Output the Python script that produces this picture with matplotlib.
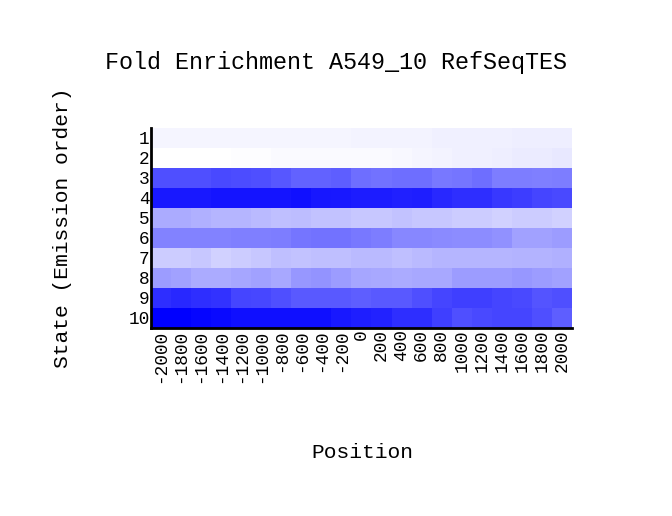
import numpy as np
import matplotlib
matplotlib.use("Agg")
import matplotlib.pyplot as plt
from matplotlib.colors import LinearSegmentedColormap

plt.rcParams['font.family'] = ['Liberation Mono', 'DejaVu Sans Mono']

# Datos
positions = list(range(-2000, 2001, 200))
states = [str(i) for i in range(1, 11)]

state1 = [0.04, 0.04, 0.04, 0.04, 0.04, 0.04, 0.04, 0.04, 0.04, 0.04, 0.05,
          0.05, 0.05, 0.05, 0.06, 0.06, 0.06, 0.06, 0.07, 0.07, 0.07]
state2 = [0.00, 0.00, 0.00, 0.00, 0.01, 0.01, 0.02, 0.02, 0.02, 0.02, 0.02,
          0.02, 0.03, 0.04, 0.05, 0.06, 0.06, 0.07, 0.08, 0.08, 0.09]
state3 = [0.69, 0.69, 0.69, 0.71, 0.70, 0.69, 0.66, 0.61, 0.61, 0.63, 0.57,
          0.55, 0.57, 0.57, 0.53, 0.54, 0.57, 0.51, 0.51, 0.50, 0.51]
state4 = [0.90, 0.90, 0.90, 0.92, 0.92, 0.92, 0.92, 0.93, 0.91, 0.90, 0.89,
          0.89, 0.87, 0.88, 0.84, 0.82, 0.82, 0.78, 0.76, 0.73, 0.71]
state5 = [0.33, 0.33, 0.31, 0.29, 0.29, 0.27, 0.25, 0.26, 0.24, 0.24, 0.22,
          0.22, 0.24, 0.22, 0.22, 0.20, 0.20, 0.18, 0.20, 0.20, 0.18]
state6 = [0.49, 0.49, 0.49, 0.49, 0.50, 0.50, 0.51, 0.54, 0.55, 0.55, 0.53,
          0.51, 0.47, 0.47, 0.46, 0.45, 0.45, 0.43, 0.37, 0.37, 0.39]
state7 = [0.20, 0.20, 0.22, 0.18, 0.20, 0.22, 0.25, 0.24, 0.25, 0.25, 0.27,
          0.27, 0.25, 0.27, 0.29, 0.29, 0.29, 0.29, 0.30, 0.30, 0.31]
state8 = [0.39, 0.37, 0.33, 0.33, 0.35, 0.37, 0.34, 0.41, 0.42, 0.39, 0.35,
          0.34, 0.33, 0.34, 0.34, 0.39, 0.39, 0.39, 0.41, 0.39, 0.37]
state9 = [0.82, 0.84, 0.82, 0.80, 0.73, 0.72, 0.69, 0.65, 0.65, 0.65, 0.63,
          0.65, 0.65, 0.69, 0.73, 0.75, 0.75, 0.73, 0.71, 0.67, 0.69]
state10 = [1.00, 1.00, 0.98, 0.96, 0.94, 0.94, 0.94, 0.94, 0.94, 0.90, 0.88,
           0.86, 0.82, 0.82, 0.75, 0.69, 0.71, 0.73, 0.73, 0.69, 0.63]

matrix = np.array([state1, state2, state3, state4, state5,
                   state6, state7, state8, state9, state10])

cmap = LinearSegmentedColormap.from_list("wb", ["#ffffff", "#0000ff"])

fig = plt.figure(figsize=(6.72, 5.16), dpi=100)
ax = fig.add_axes([151 / 672, 1 - 328 / 516, 421 / 672, 200 / 516])
ax.imshow(matrix, cmap=cmap, vmin=0, vmax=1, aspect="auto",
          interpolation="nearest")

ax.set_xticks(range(len(positions)))
ax.set_xticklabels([str(p) for p in positions], rotation=90, fontsize=12.8)
ax.set_yticks(range(len(states)))
ax.set_yticklabels(states, fontsize=12.8)
ax.tick_params(length=0, pad=1)

for s in ["top", "right"]:
    ax.spines[s].set_visible(False)
ax.spines["left"].set_linewidth(2)
ax.spines["bottom"].set_linewidth(2)

fig.text(0.5, 1 - 62 / 516, "Fold Enrichment A549_10 RefSeqTES",
         ha="center", va="center", fontsize=16.8)
fig.text(362 / 672, 1 - 452 / 516, "Position",
         ha="center", va="center", fontsize=15.3)
fig.text(63 / 672, 1 - 228 / 516, "State (Emission order)",
         ha="center", va="center", rotation=90, fontsize=15.3)

fig.savefig("out.png", dpi=100)
